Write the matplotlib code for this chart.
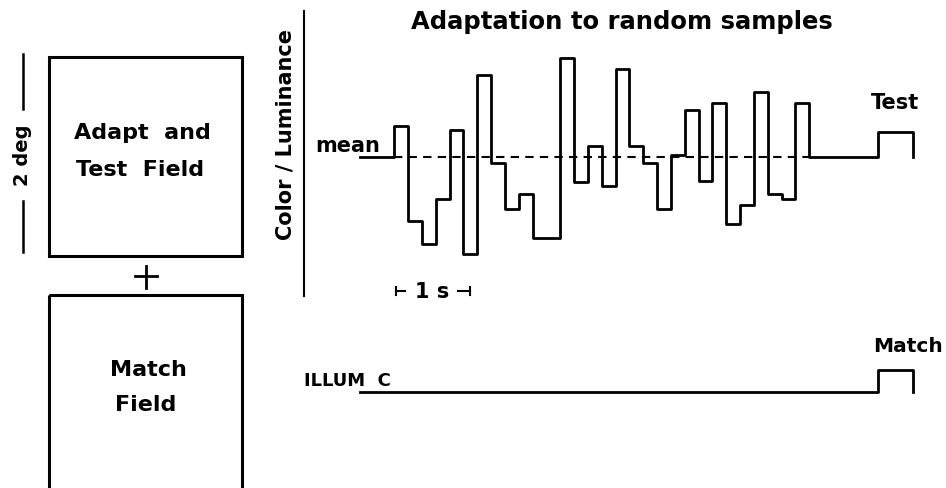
import matplotlib.pyplot as plt
from matplotlib.patches import Rectangle

# adaptation samples (one every 0.2 s), level relative to the mean
sample_dt = 0.2
samples = [0.31, -0.64, -0.87, -0.42, 0.27, -0.97, 0.82, -0.06, -0.52, -0.37,
           -0.81, -0.81, 0.99, -0.25, 0.11, -0.29, 0.88, 0.11, -0.06, -0.52,
           0.02, 0.47, -0.24, 0.54, -0.67, -0.48, 0.65, -0.37, -0.42, 0.54]
lead_in = 0.5
test_on, test_off = 7.0, 7.5
test_level = 0.25
illum_level = -2.35
match_level = 0.22

W, H = 946, 489
fig = plt.figure(figsize=(W / 100, H / 100), dpi=100)

# schematic layer in pixel coordinates
sk = fig.add_axes([0, 0, 1, 1])
sk.set_xlim(0, W)
sk.set_ylim(H, 0)
sk.axis('off')

# trace layer: t=0 at x=394.3 px, 69.15 px per second, 100 px per level unit
ax = fig.add_axes([0, 0, 1, 1])
ax.set_xlim(-394.3 / 69.15, (W - 394.3) / 69.15)
ax.set_ylim((157.5 - H) / 100, 157.5 / 100)
ax.axis('off')
ax.patch.set_alpha(0)

font = dict(family='DejaVu Sans', weight='bold', color='black')

# stimulus fields
sk.add_patch(Rectangle((49.3, 58.3), 192.4, 198.4, fill=False, lw=2.2, ec='black'))
sk.add_patch(Rectangle((49.3, 295.7), 192.4, 220, fill=False, lw=2.2, ec='black'))
sk.plot([135, 157], [277, 277], color='black', lw=2)
sk.plot([146, 146], [266.5, 288.5], color='black', lw=2)
sk.text(142, 133, 'Adapt  and', ha='center', va='center', fontsize=16, **font)
sk.text(140, 170, 'Test  Field', ha='center', va='center', fontsize=16, **font)
sk.text(148, 370, 'Match', ha='center', va='center', fontsize=16, **font)
sk.text(146, 405, 'Field', ha='center', va='center', fontsize=16, **font)
sk.plot([22.7, 22.7], [55, 110], color='black', lw=1.8)
sk.plot([22.7, 22.7], [201.7, 253.3], color='black', lw=1.8)
sk.text(22.7, 155, '2 deg', rotation=90, ha='center', va='center', fontsize=14, **font)

# axis of the trace
sk.plot([304.3, 304.3], [11.7, 296.7], color='black', lw=1.5)
sk.text(285, 135, 'Color / Luminance', rotation=90, ha='center', va='center',
        fontsize=15, **font)
sk.text(622, 22, 'Adaptation to random samples', ha='center', va='center',
        fontsize=17.5, **font)

# 1 s bracket
sk.plot([396, 405], [291.7, 291.7], color='black', lw=1.5)
sk.plot([396, 396], [287.5, 296], color='black', lw=1.5)
sk.plot([458, 470], [291.7, 291.7], color='black', lw=1.5)
sk.plot([470, 470], [287.5, 296], color='black', lw=1.5)
sk.text(431.7, 292, '1 s', ha='center', va='center', fontsize=15, **font)

# test trace
n = len(samples)
tx = [-lead_in] + [i * sample_dt for i in range(n + 1)] + [test_on, test_off]
ty = [0] + samples + [0, test_level, 0]
ax.step(tx, ty, where='post', color='black', lw=2)
ax.plot([0, n * sample_dt], [0, 0], color='black', lw=1.5, ls=(0, (4, 3)))
sk.text(348, 146, 'mean', ha='center', va='center', fontsize=15, **font)
sk.text(895, 103, 'Test', ha='center', va='center', fontsize=15, **font)

# match trace
mx = [-lead_in, test_on, test_off]
my = [illum_level, illum_level + match_level, illum_level]
ax.step(mx, my, where='post', color='black', lw=2)
sk.text(347, 381, 'ILLUM  C', ha='center', va='center', fontsize=13, **font)
sk.text(943, 346, 'Match', ha='right', va='center', fontsize=14.5, **font)

fig.savefig('out.png', dpi=100)
